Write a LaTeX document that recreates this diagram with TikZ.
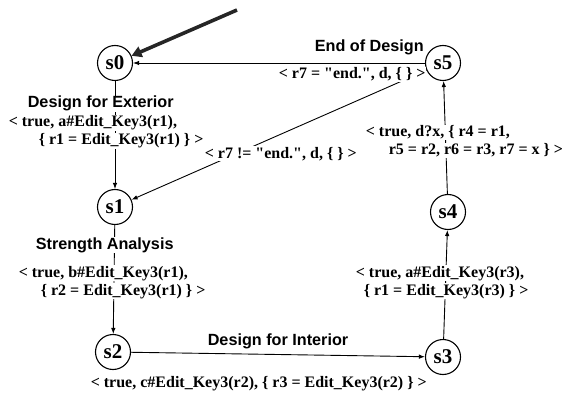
\documentclass[tikz,border=0pt]{standalone}
\usepackage{fontspec}
\setmainfont{Liberation Serif}
\setsansfont{Liberation Sans}
\usetikzlibrary{arrows.meta}
\font\plainq="Liberation Serif/B" at 16pt
\newcommand{\dq}{{\plainq"}}
\begin{document}
\begin{tikzpicture}[x=1pt,y=-1pt,
  st/.style={circle,draw,line width=1.1pt,minimum size=35pt,inner sep=0pt,
    font=\fontsize{21}{21}\selectfont\bfseries},
  tup/.style={font=\fontsize{16}{16}\selectfont\bfseries,inner sep=0.6pt,fill=white,anchor=base west},
  nm/.style={font=\fontsize{16.2}{16.2}\selectfont\sffamily\bfseries,inner sep=0.6pt,fill=white,anchor=base west},
  tr/.style={draw,line width=0.9pt,-{Latex[length=6pt,width=4.5pt]}}]
\useasboundingbox (0,0) rectangle (581,393);
% states
\node[st] (s0) at (115,63) {s0};
\node[st] (s1) at (115,207) {s1};
\node[st] (s2) at (113,352) {s2};
\node[st] (s3) at (443,357) {s3};
\node[st] (s4) at (448,212) {s4};
\node[st] (s5) at (443,63) {s5};
\coordinate (init) at (237,10);
% transitions
\draw[line width=3.6pt,black!85,-{Triangle[length=10pt,width=11pt]}] (init) -- (s0);
\draw[tr] (s5) -- (s0);
\draw[tr] (s0) -- (s1);
\draw[tr] (s5) -- (s1);
\draw[tr] (s1) -- (s2);
\draw[tr] (s2) -- (s3);
\draw[tr] (s3) -- (s4);
\draw[tr] (s4) -- (s5);
% labels
\node[nm] (l50a) at (314,52) {End of Design};
\node[tup] (l50b) at (278,79) {< r7 = \dq end.\dq, d, \{ \} >};
\node[nm] (l01a) at (27,108) {Design for Exterior};
\node[tup] (l01b) at (8,127) {< true, a\#Edit\_Key3(r1),};
\node[tup] (l01c) at (38,145) {\{ r1 = Edit\_Key3(r1) \} >};
\node[tup] (l51) at (204,158) {< r7 != \dq end.\dq, d, \{ \} >};
\node[nm] (l12a) at (35,249) {Strength Analysis};
\node[tup] (l12b) at (18,277) {< true, b\#Edit\_Key3(r1),};
\node[tup] (l12c) at (40,295) {\{ r2 = Edit\_Key3(r1) \} >};
\node[nm] (l23a) at (207,345) {Design for Interior};
\node[tup] (l23b) at (90,387) {< true, c\#Edit\_Key3(r2), \{ r3 = Edit\_Key3(r2) \} >};
\node[tup] (l34a) at (355,277) {< true, a\#Edit\_Key3(r3),};
\node[tup] (l34b) at (363,295) {\{ r1 = Edit\_Key3(r3) \} >};
\node[tup] (l45a) at (365,137) {< true, d?x, \{ r4 = r1,};
\node[tup] (l45b) at (388,155) {r5 = r2, r6 = r3, r7 = x \} >};
\end{tikzpicture}
\end{document}
